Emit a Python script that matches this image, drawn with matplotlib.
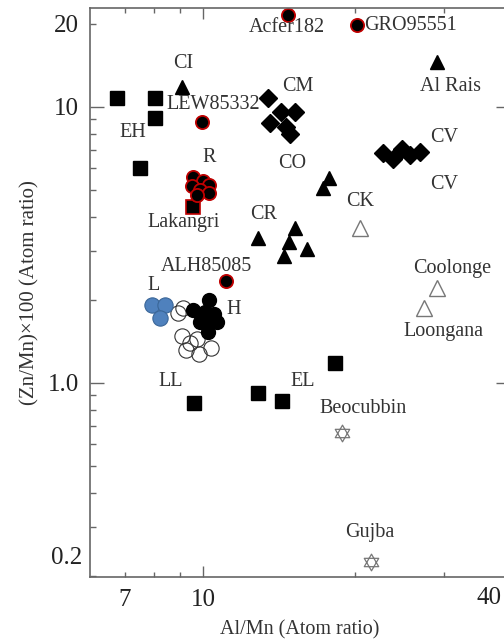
import numpy as np
import matplotlib
matplotlib.use('Agg')
import matplotlib.pyplot as plt
from matplotlib.path import Path

plt.rcParams['font.family'] = ['Liberation Serif', 'DejaVu Serif']

# Datos (Al/Mn, Zn/Mn x100)
eh_el_ll_x = [6.76, 8.04, 8.04, 7.50, 9.60, 12.85, 14.34, 18.26]
eh_el_ll_y = [10.78, 10.78, 9.12, 6.01, 0.846, 0.920, 0.861, 1.18]
lakangri_x = [9.55]
lakangri_y = [4.34]

carb_tri_x = [9.09, 29.07, 17.77, 17.29, 12.85, 15.21, 14.80, 16.07, 14.47]
carb_tri_y = [11.81, 14.56, 5.53, 5.09, 3.35, 3.64, 3.24, 3.06, 2.88]

open_tri_x = [20.46, 29.07, 27.39]
open_tri_y = [3.64, 2.21, 1.87]

cm_x = [13.45, 14.27, 15.21, 13.57, 14.60, 14.87]
cm_y = [10.78, 9.59, 9.59, 8.75, 8.46, 7.98]
cv_x = [22.72, 23.78, 24.78, 25.70, 26.90]
cv_y = [6.81, 6.48, 7.04, 6.70, 6.87]

red_x = [14.73, 20.18, 9.95, 11.10, 9.55, 10.0, 10.28, 9.51, 9.87, 10.28, 9.73]
red_y = [21.5, 19.8, 8.82, 2.34, 5.58, 5.39, 5.22, 5.17, 5.00, 4.88, 4.80]

h_x = [10.28, 9.55, 10.09, 9.87, 10.32, 10.66, 10.23, 10.51]
h_y = [2.00, 1.84, 1.81, 1.66, 1.66, 1.66, 1.53, 1.78]

l_x = [7.93, 8.41, 8.22]
l_y = [1.92, 1.92, 1.72]

ll_open_x = [8.92, 9.13, 9.09, 9.42, 9.73, 9.25, 9.82, 10.37]
ll_open_y = [1.79, 1.87, 1.48, 1.40, 1.44, 1.32, 1.27, 1.34]

star_x = [18.85, 21.51]
star_y = [0.659, 0.2246]

labels = ['Acfer182', 'GRO95551', 'CI', 'CM', 'Al Rais', 'LEW85332', 'EH', 'R',
          'CO', 'CV', 'CV', 'Lakangri', 'CR', 'CK', 'ALH85085', 'L', 'H',
          'Coolonge', 'Loongana', 'LL', 'EL', 'Beocubbin', 'Gujba']
label_x = [14.66, 25.70, 9.13, 15.42, 30.84, 10.46, 7.27, 10.28,
           15.01, 30.0, 30.0, 9.13, 13.15, 20.46, 10.14, 7.96, 11.47,
           31.12, 29.87, 8.64, 15.71, 20.74, 21.41]
label_y = [19.33, 19.66, 14.31, 11.81, 11.81, 10.17, 8.05, 6.53,
           6.22, 7.72, 5.22, 3.80, 4.06, 4.53, 2.63, 2.25, 1.85,
           2.59, 1.54, 1.01, 1.01, 0.805, 0.286]

xticks_minor = [7, 8, 9, 20, 30]
xticks_minor_labels = ['7', '', '', '', '']
yticks_major = [1, 10]
yticks_major_labels = ['1.0', '10']
yticks_minor = [0.2, 0.3, 0.4, 0.5, 0.6, 0.7, 0.8, 0.9, 2, 3, 4, 5, 6, 7, 8, 9, 20]
yticks_minor_labels = ['', '', '', '', '', '', '', '', '', '', '', '', '', '', '', '', '20']

# marcador estrella de David
a_up = np.deg2rad([90, 210, 330])
a_dn = np.deg2rad([270, 30, 150])
verts = [(np.cos(a), np.sin(a)) for a in a_up] + [(0, 0)] + \
        [(np.cos(a), np.sin(a)) for a in a_dn] + [(0, 0)]
codes = [Path.MOVETO, Path.LINETO, Path.LINETO, Path.CLOSEPOLY] * 2
hexagram = Path(verts, codes)

fig = plt.figure(figsize=(5.04, 6.41), dpi=100)
ax = fig.add_axes([90/504, 64/641, 420/504, 569/641])
ax.set_xscale('log')
ax.set_yscale('log')

ax.plot(eh_el_ll_x, eh_el_ll_y, 's', ms=10.5, color='black', ls='none')
ax.plot(lakangri_x, lakangri_y, 's', ms=10, mfc='black', mec='#c00000', mew=1.2, ls='none')
ax.plot(carb_tri_x, carb_tri_y, '^', ms=10.5, color='black', ls='none')
ax.plot(open_tri_x, open_tri_y, '^', ms=12, mfc='white', mec='#777777', mew=1.0, ls='none')
ax.plot(cm_x, cm_y, 'D', ms=9.5, color='black', ls='none')
ax.plot(cv_x, cv_y, 'D', ms=9.5, color='black', ls='none')
ax.plot(ll_open_x, ll_open_y, 'o', ms=11, mfc='none', mec='#333333', mew=0.8, ls='none')
ax.plot(h_x, h_y, 'o', ms=10, color='black', ls='none')
ax.plot(l_x, l_y, 'o', ms=11, mfc='#4f81bd', mec='#3a6698', mew=0.8, ls='none')
ax.plot(red_x, red_y, 'o', ms=9.5, mfc='black', mec='#c00000', mew=1.3, ls='none')
ax.plot(star_x, star_y, marker=hexagram, ms=12, mfc='none', mec='#777777', mew=0.9, ls='none')

for t, x, y in zip(labels, label_x, label_y):
    ax.text(x, y, t, ha='center', va='center', fontsize=14.5, color='#333333')

ax.set_xlim(5.97, 40.5)
ax.set_ylim(0.198, 22.8)

ax.set_xticks([10], labels=['10'])
ax.set_xticks(xticks_minor, labels=xticks_minor_labels, minor=True)
ax.set_yticks(yticks_major, labels=yticks_major_labels)
ax.set_yticks(yticks_minor, labels=yticks_minor_labels, minor=True)

ax.tick_params(which='both', direction='in', top=True, right=True,
               labelsize=18, colors='#666666', labelcolor='#222222')
ax.tick_params(axis='x', which='major', length=8, width=1.0, pad=9)
ax.tick_params(axis='x', which='minor', length=3.8, width=1.0, pad=9)
ax.tick_params(axis='y', which='major', length=10, width=1.0, pad=8)
ax.tick_params(axis='y', which='minor', length=4.5, width=1.0, pad=8)

# etiquetas fuera de su marca, como en el original
ax.text(-8/420, 0.232, '0.2', transform=ax.get_yaxis_transform(), ha='right', va='center',
        fontsize=18, color='#222222', clip_on=False)
ax.text(489/504, 1 - 598/641, '40', transform=fig.transFigure, ha='center', va='center',
        fontsize=18, color='#222222')

for s in ax.spines.values():
    s.set_color('#666666')
    s.set_linewidth(1.2)

ax.set_xlabel('Al/Mn (Atom ratio)', fontsize=14.5, color='#333333', labelpad=6)
ax.set_ylabel('(Zn/Mn)×100 (Atom ratio)', fontsize=15, color='#333333', labelpad=6)

fig.savefig('out.png', dpi=100)
